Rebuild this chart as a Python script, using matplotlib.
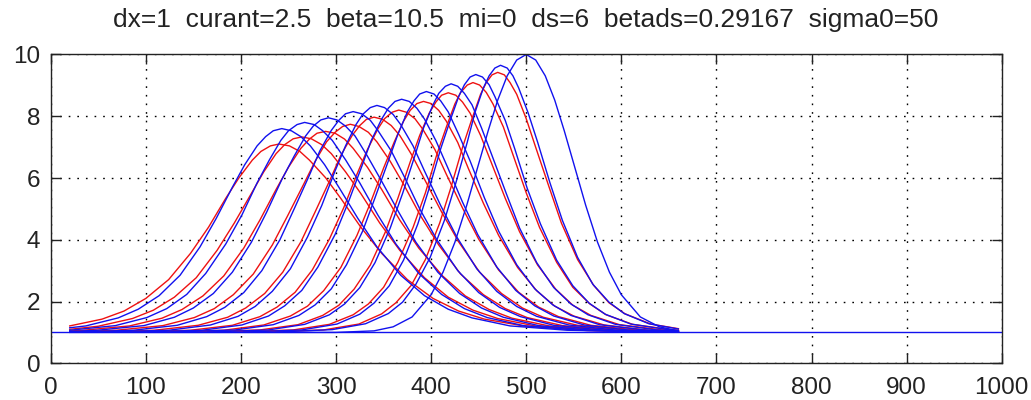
import matplotlib
matplotlib.use("Agg")
import matplotlib.pyplot as plt

# title of the run
title = "dx=1  curant=2.5  beta=10.5  mi=0  ds=6  betads=0.29167  sigma0=50"

x_ticks = [0, 100, 200, 300, 400, 500, 600, 700, 800, 900, 1000]
y_ticks = [0, 2, 4, 6, 8, 10]

# flat level drawn over the whole domain
base_x = [0, 1000]
base_y = [1, 1]

# blue profiles, from the start pulse (peak at 500) moving left
blue_x = [
    [20, 300, 340, 360, 380, 400, 412.5, 425, 437.5, 450, 460, 470, 480, 490, 500,
     510, 520, 530, 540, 550, 562.5, 575, 587.5, 600, 620, 640, 660],
    [237, 296, 331, 355, 370, 384, 399, 414, 426, 438, 446, 455, 461, 467, 473,
     480, 486, 492, 502, 512, 525, 538, 554, 570, 587, 603, 629, 660],
    [203, 264, 301, 325, 340, 356, 371, 386, 398, 410, 420, 429, 435, 441, 447,
     454, 461, 467, 478, 488, 501, 515, 532, 549, 566, 583, 610, 651, 660],
    [165, 229, 267, 293, 309, 325, 341, 357, 370, 383, 392, 402, 408, 415, 421,
     428, 435, 443, 453, 464, 479, 493, 511, 529, 547, 565, 594, 637, 660],
    [127, 194, 234, 261, 278, 295, 311, 328, 341, 355, 365, 375, 382, 388, 395,
     403, 410, 418, 429, 441, 456, 471, 490, 509, 528, 547, 577, 623, 660],
    [89, 159, 201, 229, 246, 264, 281, 299, 313, 327, 337, 348, 355, 362, 369,
     377, 385, 393, 405, 417, 433, 449, 469, 489, 509, 529, 561, 609, 660],
    [51, 124, 168, 197, 215, 233, 252, 270, 285, 299, 310, 321, 328, 336, 343,
     351, 360, 368, 381, 393, 410, 427, 448, 469, 490, 511, 545, 595, 660],
    [20, 87, 133, 164, 183, 203, 222, 241, 256, 272, 283, 295, 303, 310, 318,
     327, 336, 344, 358, 371, 388, 406, 428, 450, 472, 494, 529, 582, 660],
    [20, 49, 98, 130, 150, 171, 191, 211, 227, 243, 256, 268, 276, 284, 292,
     301, 310, 320, 333, 347, 366, 384, 407, 430, 453, 476, 513, 568, 660],
    [20, 68, 101, 122, 143, 163, 184, 201, 217, 230, 242, 250, 259, 267,
     277, 286, 296, 310, 325, 344, 363, 387, 411, 435, 459, 497, 555, 651],
    [20, 37, 71, 92, 114, 136, 157, 174, 191, 204, 217, 226, 234, 243,
     253, 263, 273, 288, 303, 323, 343, 368, 393, 418, 443, 483, 543, 643],
]
blue_y = [
    [1.00, 1.00, 1.05, 1.18, 1.50, 2.22, 2.95, 3.92, 5.12, 6.46, 7.53, 8.52, 9.31, 9.82, 10.0,
     9.82, 9.31, 8.52, 7.53, 6.46, 5.12, 3.92, 2.95, 2.22, 1.50, 1.18, 1.05],
    [1.01, 1.09, 1.28, 1.61, 1.98, 2.56, 3.43, 4.63, 5.84, 7.16, 8.11, 8.92, 9.31, 9.56, 9.65,
     9.56, 9.31, 8.92, 8.11, 7.16, 5.84, 4.63, 3.43, 2.56, 1.98, 1.61, 1.28, 1.11],
    [1.01, 1.08, 1.27, 1.59, 1.95, 2.51, 3.34, 4.51, 5.67, 6.94, 7.86, 8.64, 9.02, 9.27, 9.35,
     9.27, 9.02, 8.64, 7.86, 6.94, 5.67, 4.51, 3.34, 2.51, 1.95, 1.59, 1.27, 1.08, 1.06],
    [1.01, 1.08, 1.26, 1.57, 1.92, 2.45, 3.26, 4.38, 5.50, 6.73, 7.62, 8.37, 8.74, 8.97, 9.05,
     8.97, 8.74, 8.37, 7.62, 6.73, 5.50, 4.38, 3.26, 2.45, 1.92, 1.57, 1.26, 1.08, 1.04],
    [1.01, 1.08, 1.25, 1.55, 1.89, 2.41, 3.19, 4.28, 5.36, 6.55, 7.41, 8.14, 8.50, 8.72, 8.80,
     8.72, 8.50, 8.14, 7.41, 6.55, 5.36, 4.28, 3.19, 2.41, 1.89, 1.55, 1.25, 1.08, 1.03],
    [1.01, 1.07, 1.24, 1.53, 1.86, 2.36, 3.12, 4.17, 5.22, 6.37, 7.21, 7.91, 8.26, 8.48, 8.55,
     8.48, 8.26, 7.91, 7.21, 6.37, 5.22, 4.17, 3.12, 2.36, 1.86, 1.53, 1.24, 1.07, 1.02],
    [1.01, 1.07, 1.24, 1.52, 1.84, 2.33, 3.06, 4.09, 5.11, 6.23, 7.04, 7.73, 8.06, 8.28, 8.35,
     8.28, 8.06, 7.73, 7.04, 6.23, 5.11, 4.09, 3.06, 2.33, 1.84, 1.52, 1.24, 1.07, 1.02],
    [1.01, 1.07, 1.23, 1.51, 1.81, 2.29, 3.00, 4.00, 5.00, 6.09, 6.88, 7.54, 7.87, 8.08, 8.15,
     8.08, 7.87, 7.54, 6.88, 6.09, 5.00, 4.00, 3.00, 2.29, 1.81, 1.51, 1.23, 1.07, 1.01],
    [1.03, 1.07, 1.22, 1.49, 1.79, 2.26, 2.95, 3.92, 4.89, 5.95, 6.71, 7.36, 7.68, 7.88, 7.95,
     7.88, 7.68, 7.36, 6.71, 5.95, 4.89, 3.92, 2.95, 2.26, 1.79, 1.49, 1.22, 1.07, 1.01],
    [1.07, 1.22, 1.48, 1.77, 2.23, 2.91, 3.86, 4.80, 5.84, 6.59, 7.22, 7.53, 7.73, 7.80,
     7.73, 7.53, 7.22, 6.59, 5.84, 4.80, 3.86, 2.91, 2.23, 1.77, 1.48, 1.22, 1.07, 1.01],
    [1.15, 1.21, 1.47, 1.75, 2.19, 2.85, 3.77, 4.69, 5.70, 6.43, 7.04, 7.34, 7.53, 7.60,
     7.53, 7.34, 7.04, 6.43, 5.70, 4.69, 3.77, 2.85, 2.19, 1.75, 1.47, 1.21, 1.07, 1.01],
]

# red profiles, a little lower and wider than the blue ones
red_x = [
    [226, 287, 324, 348, 363, 379, 394, 409, 421, 433, 443, 452, 458, 464, 470,
     477, 483, 490, 500, 510, 524, 537, 554, 571, 587, 604, 631, 660],
    [192, 255, 293, 318, 334, 350, 365, 381, 394, 406, 416, 425, 431, 438, 444,
     451, 458, 465, 476, 486, 500, 514, 532, 549, 567, 584, 612, 654, 660],
    [154, 220, 260, 286, 303, 319, 336, 352, 365, 378, 388, 398, 405, 411, 418,
     426, 433, 441, 452, 463, 478, 493, 512, 531, 549, 568, 598, 643, 660],
    [112, 182, 224, 252, 270, 287, 305, 322, 336, 350, 361, 371, 378, 385, 392,
     400, 408, 416, 428, 439, 455, 471, 491, 511, 530, 550, 582, 629, 660],
    [74, 147, 191, 220, 238, 257, 275, 293, 308, 322, 333, 344, 351, 359, 366,
     374, 383, 391, 404, 416, 433, 450, 471, 492, 513, 534, 568, 618, 660],
    [32, 109, 155, 186, 205, 225, 244, 263, 278, 294, 305, 317, 325, 332, 340,
     349, 358, 367, 380, 393, 411, 429, 451, 474, 496, 518, 554, 607, 660],
    [20, 69, 118, 151, 172, 192, 213, 233, 249, 266, 278, 290, 299, 307, 315,
     324, 334, 343, 357, 371, 389, 408, 431, 455, 478, 501, 538, 594, 660],
    [20, 31, 83, 117, 138, 160, 182, 203, 220, 237, 250, 263, 272, 280, 289,
     299, 309, 318, 333, 348, 367, 387, 412, 436, 461, 485, 524, 583, 660],
    [20, 50, 86, 108, 130, 153, 175, 193, 211, 224, 237, 246, 255, 264,
     274, 285, 295, 310, 326, 346, 367, 393, 418, 444, 470, 511, 573, 660],
    [20, 54, 77, 100, 124, 147, 166, 184, 198, 212, 221, 231, 240,
     251, 262, 272, 289, 305, 326, 348, 375, 402, 429, 456, 499, 564, 660],
]
red_y = [
    [1.01, 1.08, 1.27, 1.60, 1.96, 2.52, 3.36, 4.54, 5.71, 6.99, 7.92, 8.71, 9.09, 9.34, 9.42,
     9.34, 9.09, 8.71, 7.92, 6.99, 5.71, 4.54, 3.36, 2.52, 1.96, 1.60, 1.27, 1.12],
    [1.01, 1.08, 1.26, 1.57, 1.92, 2.46, 3.27, 4.40, 5.52, 6.76, 7.65, 8.40, 8.77, 9.01, 9.09,
     9.01, 8.77, 8.40, 7.65, 6.76, 5.52, 4.40, 3.27, 2.46, 1.92, 1.57, 1.26, 1.08, 1.07],
    [1.01, 1.08, 1.25, 1.55, 1.88, 2.40, 3.18, 4.26, 5.34, 6.52, 7.38, 8.10, 8.46, 8.68, 8.76,
     8.68, 8.46, 8.10, 7.38, 6.52, 5.34, 4.26, 3.18, 2.40, 1.88, 1.55, 1.25, 1.08, 1.05],
    [1.01, 1.07, 1.24, 1.53, 1.85, 2.35, 3.10, 4.14, 5.18, 6.32, 7.15, 7.84, 8.19, 8.41, 8.48,
     8.41, 8.19, 7.84, 7.15, 6.32, 5.18, 4.14, 3.10, 2.35, 1.85, 1.53, 1.24, 1.07, 1.03],
    [1.01, 1.07, 1.23, 1.51, 1.82, 2.30, 3.02, 4.02, 5.03, 6.12, 6.92, 7.59, 7.92, 8.13, 8.20,
     8.13, 7.92, 7.59, 6.92, 6.12, 5.03, 4.02, 3.02, 2.30, 1.82, 1.51, 1.23, 1.07, 1.03],
    [1.01, 1.07, 1.23, 1.49, 1.79, 2.26, 2.95, 3.93, 4.90, 5.96, 6.73, 7.38, 7.70, 7.90, 7.97,
     7.90, 7.70, 7.38, 6.73, 5.96, 4.90, 3.93, 2.95, 2.26, 1.79, 1.49, 1.23, 1.07, 1.02],
    [1.02, 1.07, 1.22, 1.48, 1.77, 2.22, 2.89, 3.83, 4.77, 5.80, 6.54, 7.17, 7.48, 7.67, 7.74,
     7.67, 7.48, 7.17, 6.54, 5.80, 4.77, 3.83, 2.89, 2.22, 1.77, 1.48, 1.22, 1.07, 1.02],
    [1.05, 1.06, 1.21, 1.46, 1.74, 2.18, 2.83, 3.73, 4.64, 5.63, 6.35, 6.96, 7.26, 7.45, 7.51,
     7.45, 7.26, 6.96, 6.35, 5.63, 4.64, 3.73, 2.83, 2.18, 1.74, 1.46, 1.21, 1.06, 1.01],
    [1.10, 1.20, 1.45, 1.72, 2.14, 2.77, 3.66, 4.54, 5.50, 6.20, 6.79, 7.08, 7.27, 7.33,
     7.27, 7.08, 6.79, 6.20, 5.50, 4.54, 3.66, 2.77, 2.14, 1.72, 1.45, 1.20, 1.06, 1.01],
    [1.21, 1.43, 1.69, 2.10, 2.71, 3.56, 4.41, 5.34, 6.01, 6.58, 6.86, 7.04, 7.10,
     7.04, 6.86, 6.58, 6.01, 5.34, 4.41, 3.56, 2.71, 2.10, 1.69, 1.43, 1.20, 1.06, 1.01],
]

plt.rcParams['font.family'] = ['Liberation Sans', 'DejaVu Sans']

fig = plt.figure(figsize=(10.31, 4.0), dpi=100)
ax = fig.add_axes([0.0492, 0.0918, 0.9224, 0.772])

for xs, ys in zip(red_x, red_y):
    ax.plot(xs, ys, color='#ee1111', lw=1.0)
for xs, ys in zip(blue_x, blue_y):
    ax.plot(xs, ys, color='#1111ee', lw=1.0)
ax.plot(base_x, base_y, color='#1111ee', lw=1.0)

ax.set_xlim(0, 1000)
ax.set_ylim(0, 10)
ax.set_xticks(x_ticks)
ax.set_yticks(y_ticks)
ax.grid(True, color='black', linestyle=(0, (1.2, 5)), linewidth=1.0)
ax.tick_params(direction='in', length=7, width=1.0, top=True, right=True,
               labelsize=17.5, colors='#222222')
ax.tick_params(axis='x', pad=10)
ax.tick_params(axis='y', pad=7.5)
for sp in ax.spines.values():
    sp.set_linewidth(1.0)
    sp.set_color('#222222')

fig.text(0.5102, 0.932, title, ha='center', va='baseline', fontsize=19, color='#222222')

fig.savefig("out.png", dpi=100)
